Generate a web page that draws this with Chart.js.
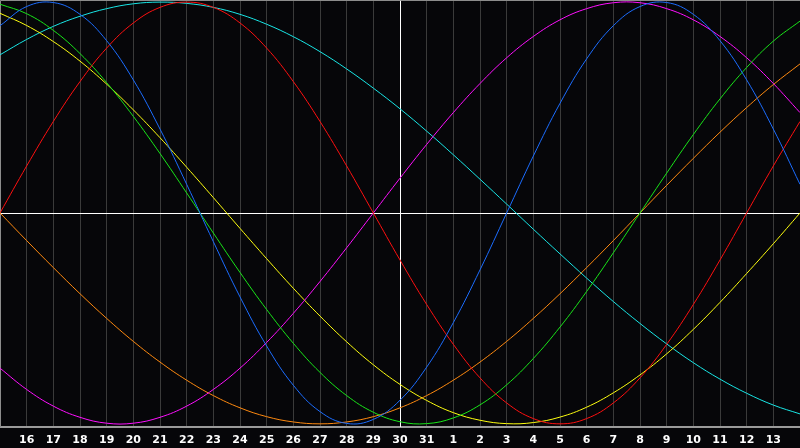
<!DOCTYPE html>
<html>
<head>
<meta charset="utf-8">
<script src="https://cdn.jsdelivr.net/npm/chart.js@4/dist/chart.umd.min.js"></script>
<style>
html,body{margin:0;padding:0;background:#060609;}
#wrap{width:800px;height:448px;}
</style>
</head>
<body>
<div id="wrap"><canvas id="c" width="800" height="448"></canvas></div>
<script>
// Day labels (15th of month through 14th of next month)
const dayLabels = ['15','16','17','18','19','20','21','22','23','24','25','26','27','28','29','30','31',
  '1','2','3','4','5','6','7','8','9','10','11','12','13','14'];
const centerIndex = 15; // "30" - today marker

// Series values per day (-1..1)
const physical = [0.888,0.979,0.998,0.942,0.817,0.631,0.398,0.136,-0.136,-0.398,-0.631,-0.817,-0.942,-0.998,-0.979,-0.888,-0.731,-0.520,-0.270,0,0.270,0.520,0.731,0.888,0.979,0.998,0.942,0.817,0.631,0.398,0.136];
const emotional = [0,0.223,0.434,0.623,0.782,0.901,0.975,1,0.975,0.901,0.782,0.623,0.434,0.223,0,-0.223,-0.434,-0.623,-0.782,-0.901,-0.975,-1,-0.975,-0.901,-0.782,-0.623,-0.434,-0.223,0,0.223,0.434];
const intellectual = [0.990,0.945,0.866,0.756,0.618,0.458,0.282,0.095,-0.095,-0.282,-0.458,-0.618,-0.756,-0.866,-0.945,-0.990,-0.999,-0.972,-0.910,-0.815,-0.690,-0.541,-0.372,-0.189,0,0.189,0.372,0.541,0.690,0.815,0.910];
const intuitive = [-0.736,-0.837,-0.916,-0.969,-0.997,-0.997,-0.969,-0.916,-0.837,-0.736,-0.614,-0.476,-0.325,-0.165,0,0.165,0.325,0.476,0.614,0.736,0.837,0.916,0.969,0.997,0.997,0.969,0.916,0.837,0.736,0.614,0.476];
const aesthetic = [0.947,0.889,0.813,0.720,0.611,0.489,0.357,0.217,0.073,-0.073,-0.217,-0.357,-0.489,-0.611,-0.720,-0.813,-0.889,-0.947,-0.983,-0.999,-0.994,-0.968,-0.921,-0.853,-0.768,-0.668,-0.552,-0.424,-0.287,-0.146,0];
const awareness = [0,-0.131,-0.259,-0.383,-0.5,-0.609,-0.707,-0.793,-0.866,-0.924,-0.966,-0.991,-1,-0.991,-0.966,-0.924,-0.866,-0.793,-0.707,-0.609,-0.5,-0.383,-0.259,-0.131,0,0.131,0.259,0.383,0.5,0.609,0.707];
const spiritual = [0.750,0.823,0.885,0.933,0.969,0.992,1.000,0.994,0.975,0.942,0.895,0.836,0.765,0.683,0.592,0.494,0.388,0.276,0.160,0.042,-0.077,-0.194,-0.309,-0.420,-0.524,-0.621,-0.710,-0.788,-0.855,-0.911,-0.953];

const seriesNames = ['Physical','Emotional','Intellectual','Intuitive','Aesthetic','Awareness','Spiritual'];
const seriesData = [physical, emotional, intellectual, intuitive, aesthetic, awareness, spiritual];
const seriesColors = ['#1c6dff','#ff1010','#19e619','#ff10ff','#ffff10','#ff8a10','#19e6e6'];

const toXY = arr => arr.map((v,i)=>({x:i,y:v}));

const frame = {
  id:'frame',
  beforeDatasetsDraw(chart){
    const {ctx, chartArea:a, scales:{x,y}} = chart;
    ctx.save();
    ctx.lineWidth = 1;
    ctx.strokeStyle = '#ffffff';
    const cx = Math.round(x.getPixelForValue(centerIndex)) + 0.5;
    const zy = Math.round(y.getPixelForValue(0)) + 0.5;
    ctx.beginPath();
    ctx.moveTo(cx, a.top); ctx.lineTo(cx, a.bottom);
    ctx.moveTo(a.left, zy); ctx.lineTo(a.right, zy);
    ctx.stroke();
    ctx.strokeStyle = '#8c8c8c';
    ctx.beginPath();
    ctx.moveTo(a.left+0.5, a.bottom); ctx.lineTo(a.left+0.5, a.top+0.5); ctx.lineTo(a.right, a.top+0.5);
    ctx.stroke();
    ctx.restore();
  }
};

new Chart(document.getElementById('c'), {
  type:'line',
  data:{
    datasets: seriesData.map((d,i)=>({
      label: seriesNames[i],
      data: toXY(d),
      borderColor: seriesColors[i],
      borderWidth: 1,
      pointRadius: 0,
      pointHoverRadius: 0,
      pointHitRadius: 0,
      tension: 0.4,
      fill: false
    }))
  },
  options:{
    responsive:false,
    devicePixelRatio:1,
    animation:false,
    layout:{padding:0, autoPadding:false},
    plugins:{legend:{display:false}, tooltip:{enabled:false}},
    scales:{
      x:{
        type:'linear', min:0, max:30,
        afterFit(s){ s.height = 21; s.paddingLeft = 0; s.paddingRight = 0; },
        border:{display:true, color:'#9a9a9a', width:2},
        grid:{
          color: ctx => (ctx.tick && ctx.tick.value === centerIndex) ? 'rgba(0,0,0,0)' : '#3a3a3a',
          drawTicks:false, lineWidth:1
        },
        ticks:{
          stepSize:1, autoSkip:false, maxRotation:0, padding:7,
          color:'#ffffff',
          font:{family:'DejaVu Sans', size:11, weight:'bold'},
          callback: v => (v>=1 && v<=29) ? dayLabels[v] : ''
        }
      },
      y:{
        display:false, min:-1.015, max:1.01
      }
    }
  },
  plugins:[frame]
});
</script>
</body>
</html>
